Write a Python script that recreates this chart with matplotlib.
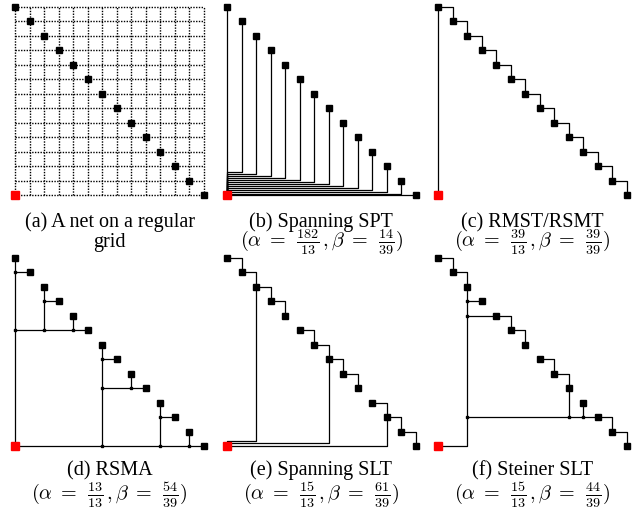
import matplotlib
matplotlib.use("Agg")
import matplotlib.pyplot as plt

# sinks along the anti-diagonal of a 13x13 grid, source at the origin
sink_x = [0, 1, 2, 3, 4, 5, 6, 7, 8, 9, 10, 11, 12, 13]
sink_y = [13, 12, 11, 10, 9, 8, 7, 6, 5, 4, 3, 2, 1, 0]
source = (0, 0)

# (b) spanning SPT: height of the horizontal run of each sink's path
spt_offsets = [0, 1.61, 1.47, 1.33, 1.20, 1.03, 0.90, 0.76, 0.64, 0.51, 0.37, 0.23, 0.11, 0]

# (d) RSMA
rsma_edges = [
    [(0, 0), (0, 13)], [(0, 0), (13, 0)],
    [(0, 12), (1, 12)],
    [(0, 8), (5, 8)], [(2, 8), (2, 11)], [(2, 10), (3, 10)], [(4, 8), (4, 9)],
    [(6, 0), (6, 7)], [(6, 6), (7, 6)], [(6, 4), (9, 4)], [(8, 4), (8, 5)],
    [(10, 0), (10, 3)], [(10, 2), (11, 2)],
    [(12, 0), (12, 1)],
]
rsma_steiner = [(0, 12), (0, 8), (2, 8), (2, 10), (4, 8), (6, 0), (6, 6),
                (6, 4), (8, 4), (10, 0), (10, 2), (12, 0)]

# (e) spanning SLT
slt_edges = [
    [(0, 13), (1, 13), (1, 12), (2, 12), (2, 11), (3, 11), (3, 10), (4, 10), (4, 9)],
    [(5, 8), (6, 8), (6, 7), (7, 7), (7, 6), (8, 6), (8, 5), (9, 5), (9, 4)],
    [(10, 3), (11, 3), (11, 2), (12, 2), (12, 1), (13, 1), (13, 0)],
    [(2, 11), (2, 0.37), (0, 0.37), (0, 0)],
    [(7, 6), (7, 0.18), (0, 0.18), (0, 0)],
    [(11, 2), (11, 0), (0, 0)],
]

# (f) Steiner SLT
sslt_edges = [
    [(0, 13), (1, 13), (1, 12), (2, 12), (2, 11)],
    [(2, 11), (2, 0), (0, 0)],
    [(2, 10), (3, 10)],
    [(2, 9), (5, 9), (5, 8), (6, 8), (6, 7)],
    [(2, 2), (12, 2), (12, 1), (13, 1), (13, 0)],
    [(7, 6), (8, 6), (8, 5), (9, 5), (9, 4), (9, 2)],
    [(10, 3), (10, 2)],
]
sslt_steiner = [(2, 10), (2, 9), (2, 2), (9, 2), (10, 2)]

titles = ["(a) A net on a regular", "(b) Spanning SPT", "(c) RMST/RSMT",
          "(d) RSMA", "(e) Spanning SLT", "(f) Steiner SLT"]
alpha = [None, ("182", "13"), ("39", "13"), ("13", "13"), ("15", "13"), ("15", "13")]
beta = [None, ("14", "39"), ("39", "39"), ("54", "39"), ("61", "39"), ("44", "39")]

plt.rcParams['font.family'] = ['Liberation Serif', 'DejaVu Serif']
plt.rcParams['mathtext.fontset'] = 'cm'

W, H = 639, 512
fig = plt.figure(figsize=(W / 100, H / 100), dpi=100)

cell = 14.5
pad = 0.6
origins = [(15.3, 195.3), (227, 195.3), (438, 195.3),
           (15.3, 446), (227, 446), (438, 446)]
LW = 0.9


def make_ax(ox, oy):
    left = ox - pad * cell
    bottom = H - (oy + pad * cell)
    size = (13 + 2 * pad) * cell
    ax = fig.add_axes([left / W, bottom / H, size / W, size / H])
    ax.set_xlim(-pad, 13 + pad)
    ax.set_ylim(-pad, 13 + pad)
    ax.axis('off')
    return ax


def draw_path(ax, pts):
    xs = [p[0] for p in pts]
    ys = [p[1] for p in pts]
    ax.plot(xs, ys, color='black', lw=LW, solid_capstyle='butt', clip_on=False)


def draw_pins(ax, steiner=None):
    if steiner:
        ax.plot([p[0] for p in steiner], [p[1] for p in steiner], 's',
                color='black', ms=1.8, clip_on=False)
    ax.plot(sink_x, sink_y, 's', color='black', ms=4.3, clip_on=False)
    ax.plot([source[0]], [source[1]], 's', color='#ff0000', ms=5.8, clip_on=False)


axes = [make_ax(*o) for o in origins]

# (a) grid
ax = axes[0]
for i in range(14):
    ax.plot([i, i], [0, 13], color='black', lw=1.0, ls=(0, (1, 1)))
    ax.plot([0, 13], [i, i], color='black', lw=1.0, ls=(0, (1, 1)))
draw_pins(ax)

# (b) spanning SPT
ax = axes[1]
for x, y, off in zip(sink_x, sink_y, spt_offsets):
    draw_path(ax, [(x, y), (x, off), (0, off), (0, 0)])
draw_pins(ax)

# (c) RMST / RSMT
ax = axes[2]
draw_path(ax, [(0, 0), (0, 13)])
stair = [(sink_x[0], sink_y[0])]
for k in range(1, len(sink_x)):
    stair.append((sink_x[k], sink_y[k - 1]))
    stair.append((sink_x[k], sink_y[k]))
draw_path(ax, stair)
draw_pins(ax)

# (d) RSMA
ax = axes[3]
for e in rsma_edges:
    draw_path(ax, e)
draw_pins(ax, rsma_steiner)

# (e) spanning SLT
ax = axes[4]
for e in slt_edges:
    draw_path(ax, e)
draw_pins(ax)

# (f) Steiner SLT
ax = axes[5]
for e in sslt_edges:
    draw_path(ax, e)
draw_pins(ax, sslt_steiner)

# captions
FS = 14.5
line1_y = [227, 227, 227, 475, 475, 475]
line2_y = [247, 242, 242, 495, 495, 495]
for k, (ox, oy) in enumerate(origins):
    cx = (ox + 6.5 * cell) / W
    fig.text(cx, 1 - line1_y[k] / H, titles[k], ha='center', va='baseline', fontsize=FS)
    if alpha[k] is None:
        fig.text(cx, 1 - line2_y[k] / H, "grid", ha='center', va='baseline', fontsize=FS)
    else:
        s = (r"$(\alpha\;=\;\,\frac{%s}{%s}\,,\beta\;=\;\,\frac{%s}{%s})$"
             % (alpha[k] + beta[k]))
        fig.text(cx, 1 - line2_y[k] / H, s, ha='center', va='center', fontsize=FS)

fig.savefig('out.png', dpi=100)
